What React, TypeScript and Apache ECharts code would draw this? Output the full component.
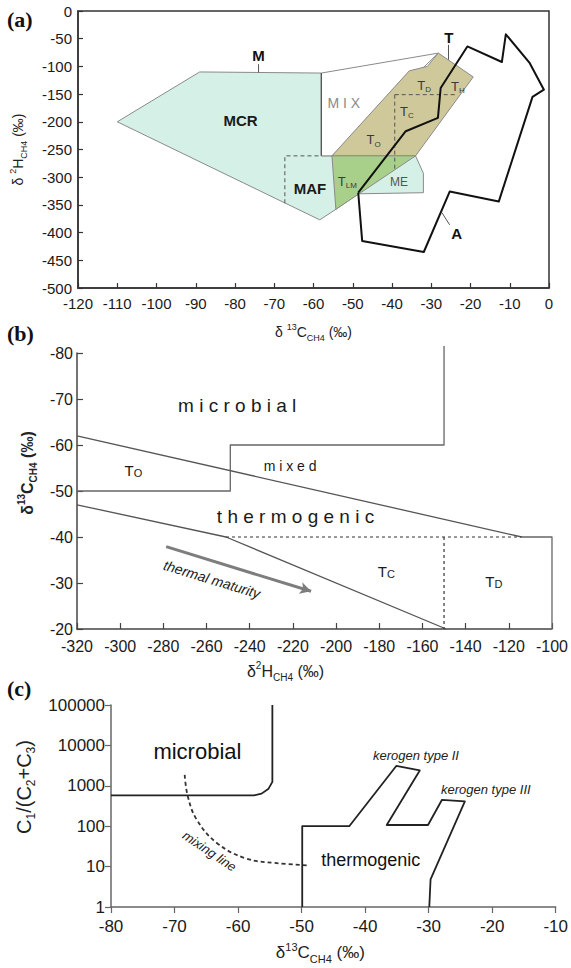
import React, { useEffect, useRef } from "react";
import * as echarts from "echarts";

const FONT = "'Liberation Sans', Arial, sans-serif";
const SERIF = "'Liberation Serif', 'Times New Roman', serif";

// ---------- (a) δ13C vs δ2H of methane ----------
const aMicrobialZone = [
  [-110, -200], [-89, -110], [-58, -112], [-58, -261.5], [-34, -261.5],
  [-32, -293], [-32, -328], [-48.6, -330], [-54.3, -358], [-58.4, -377],
];
const aMixedZone = [[-58, -112], [-28.2, -76], [-55.3, -261.5], [-58, -261.5]];
const aThermogenicZone = [
  [-28.2, -76], [-19.3, -119], [-34, -261.5], [-55.3, -261.5], [-35.6, -108], [-31, -100],
];
const aLateMatureZone = [[-55.3, -261.5], [-34, -261.5], [-54.3, -358]];
const aAbioticOutline = [
  [-48.6, -328], [-36.5, -217], [-28.3, -193], [-27.6, -139], [-20.8, -64],
  [-12, -92], [-11, -42], [-5, -93], [-1.3, -142], [-4.2, -155], [-12.8, -344],
  [-25.3, -326], [-31.9, -435], [-47.6, -415], [-48.6, -328],
];
const aMafDivider = [[-67.3, -347], [-67.3, -261.5], [-58, -261.5]];
const aThermoDividerV = [[-39.3, -151], [-39.3, -288]];
const aThermoDividerH = [[-39.3, -151], [-24, -151]];
const aLeaderM = [[-74, -96], [-74, -111]];
const aLeaderT = [[-25.6, -61], [-25.6, -88]];
const aLeaderA = [[-27.3, -364], [-25.3, -386]];
const aLabels = [
  { at: [-78.6, -198], text: "{b|MCR}" },
  { at: [-60.9, -320], text: "{b|MAF}" },
  { at: [-52.3, -166], text: "{g|M I X}" },
  { at: [-31.8, -134], text: "{t|T}{s|D}" },
  { at: [-23.2, -136], text: "{t|T}{s|H}" },
  { at: [-36.2, -181], text: "{t|T}{s|C}" },
  { at: [-44.7, -232], text: "{t|T}{s|O}" },
  { at: [-51.4, -307], text: "{t|T}{s|LM}" },
  { at: [-38.2, -308], text: "{m|ME}" },
  { at: [-74, -80], text: "{k|M}" },
  { at: [-25.5, -47], text: "{k|T}" },
  { at: [-23.5, -401], text: "{k|A}" },
];

// ---------- (b) δ2H vs δ13C of methane ----------
const bMicrobialBoundary = [[-320, -50], [-249, -50], [-249, -60], [-150, -60], [-150, -81.5]];
const bMixedBoundary = [[-320, -62], [-114, -40]];
const bThermoBoundary = [[-320, -47], [-251, -40], [-149, -20]];
const bDashedTop = [[-251, -40], [-114, -40]];
const bDryBox = [[-114, -40], [-100, -40], [-100, -20]];
const bDashedSplit = [[-150, -40], [-150, -20]];
const bMaturityArrow = [[-278.7, -37.9], [-211.6, -28.2]];
const bLabels = [
  { at: [-245.8, -68.6], text: "{big|m i c r o b i a l}" },
  { at: [-221.3, -55.5], text: "{mid|m i x e d}" },
  { at: [-218.8, -44.4], text: "{big|t h e r m o g e n i c}" },
  { at: [-293.9, -54.4], text: "{t|T}{s|O}" },
  { at: [-176.7, -32.4], text: "{t|T}{s|C}" },
  { at: [-126.9, -30.3], text: "{t|T}{s|D}" },
  { at: [-257.5, -30.8], text: "{it|thermal maturity}", rotate: -17 },
];

// ---------- (c) δ13C vs C1/(C2+C3) ----------
const cMicrobialBoundary = [
  [-80, 580], [-57.5, 580], [-56.3, 640], [-55.2, 850], [-54.6, 1250], [-54.6, 100000],
];
const cThermoBoundary = [
  [-49.9, 1], [-49.9, 100], [-42.5, 100], [-35.1, 3100], [-31.4, 2400], [-36.6, 107],
  [-30.1, 107], [-27.9, 450], [-24.3, 410], [-29.7, 4.8], [-29.9, 1],
];
const cMixingLine = [
  [-68.4, 1860], [-67.9, 540], [-66.5, 145], [-63.3, 38], [-58.8, 16], [-54.2, 12.3], [-48.8, 10.7],
];
const cLabels = [
  { at: [-66.4, 6900], text: "{big|microbial}" },
  { at: [-39.1, 14.2], text: "{mid|thermogenic}" },
  { at: [-32.0, 5700], text: "{it|kerogen type II}" },
  { at: [-21.0, 824], text: "{it|kerogen type III}" },
  { at: [-64.5, 24], text: "{it|mixing line}", rotate: -34 },
];

type Pt = number[];

function zoneSeries(g: number, pts: Pt[], fill: string, stroke: string, lineWidth: number, z: number) {
  return {
    type: "custom",
    coordinateSystem: "cartesian2d",
    xAxisIndex: g,
    yAxisIndex: g,
    data: [pts[0]],
    clip: false,
    silent: true,
    z,
    renderItem: (_p: any, api: any) => ({
      type: "polygon",
      shape: { points: pts.map((p) => api.coord(p)) },
      style: { fill, stroke, lineWidth, lineJoin: "round" },
    }),
  };
}

function lineSeries(g: number, pts: Pt[], color: string, width: number, type: any = "solid", z = 10, smooth: any = false) {
  return {
    type: "line",
    xAxisIndex: g,
    yAxisIndex: g,
    data: pts,
    showSymbol: false,
    symbol: "none",
    smooth,
    clip: false,
    silent: true,
    z,
    lineStyle: { color, width, type, join: "round" },
  };
}

function labelSeries(g: number, labels: any[], rich: any) {
  return {
    type: "custom",
    coordinateSystem: "cartesian2d",
    xAxisIndex: g,
    yAxisIndex: g,
    data: labels.map((l) => l.at),
    clip: false,
    silent: true,
    z: 30,
    renderItem: (params: any, api: any) => {
      const l = labels[params.dataIndex];
      const p = api.coord([api.value(0), api.value(1)]);
      return {
        type: "text",
        x: p[0],
        y: p[1],
        rotation: ((l.rotate || 0) * Math.PI) / 180,
        style: {
          text: l.text,
          rich,
          align: "center",
          verticalAlign: "middle",
          fontFamily: FONT,
          fontSize: 14,
          fill: "#222",
        },
      };
    },
  };
}

const tok = (size: number, extra: any = {}) => ({
  fontSize: size,
  lineHeight: size,
  fontFamily: FONT,
  fill: "#222",
  ...extra,
});

const nameRich = (size: number, weight = "normal", color = "#222") => {
  const small = Math.round(size * 0.62);
  return {
    m: { fontSize: size, lineHeight: size + 6, fontFamily: FONT, fontWeight: weight, color },
    sup: { fontSize: small, lineHeight: small, verticalAlign: "top", fontFamily: FONT, fontWeight: weight, color },
    sub: { fontSize: small, lineHeight: small, verticalAlign: "bottom", fontFamily: FONT, fontWeight: weight, color },
  };
};

function buildOption() {
  const axisBase = (color: string, inside: boolean, tickLen: number, labelSize: number, margin: number) => ({
    type: "value",
    axisLine: { show: true, onZero: false, lineStyle: { color, width: 1.5 } },
    axisTick: { show: true, inside, length: tickLen, lineStyle: { color, width: 1.2 } },
    axisLabel: { fontSize: labelSize, margin, fontFamily: FONT, color: "#1a1a1a" },
    splitLine: { show: false },
    nameLocation: "middle",
  });

  const subRichA = {
    t: tok(13, { fill: "#3a3a3a", lineHeight: 17 }),
    s: tok(8, { fill: "#3a3a3a", verticalAlign: "bottom" }),
    b: tok(15, { fontWeight: "bold", fill: "#1a1a1a" }),
    g: tok(14, { fill: "#8a8a8a" }),
    m: tok(12, { fill: "#555" }),
    k: tok(15, { fontWeight: "bold", fill: "#111" }),
  };
  const richB = {
    big: tok(19, { fill: "#1a1a1a" }),
    mid: tok(14, { fill: "#1a1a1a" }),
    t: tok(15, { fill: "#1a1a1a" }),
    s: tok(11, { fill: "#1a1a1a", verticalAlign: "bottom" }),
    it: tok(14, { fontStyle: "italic", fill: "#1a1a1a" }),
  };
  const richC = {
    big: tok(22, { fill: "#111" }),
    mid: tok(18, { fill: "#111" }),
    it: tok(13, { fontStyle: "italic", fill: "#222" }),
  };

  return {
    animation: false,
    backgroundColor: "#ffffff",
    grid: [
      { left: 70, top: 11, width: 479, height: 277, show: true, borderColor: "#333", borderWidth: 1.5 },
      { left: 77, top: 353, width: 475, height: 276 },
      { left: 111, top: 705, width: 448, height: 202 },
    ],
    xAxis: [
      {
        ...axisBase("#333", true, 5, 15, 8),
        gridIndex: 0, min: -120, max: 0, interval: 10,
        name: "{m|δ }{sup|13}{m|C}{sub|CH4}{m| (‰)}",
        nameGap: 34,
        nameTextStyle: { rich: nameRich(14) },
      },
      {
        ...axisBase("#444", true, 6, 16, 9),
        gridIndex: 1, min: -320, max: -100, interval: 20,
        name: "{m|δ}{sup|2}{m|H}{sub|CH4}{m| (‰)}",
        nameGap: 31,
        nameTextStyle: { rich: nameRich(16), padding: [0, 58, 0, 0] },
      },
      {
        ...axisBase("#666", false, 6, 17, 11),
        gridIndex: 2, min: -80, max: -10, interval: 10,
        name: "{m|δ}{sup|13}{m|C}{sub|CH4}{m| (‰)}",
        nameGap: 34,
        nameTextStyle: { rich: nameRich(17), padding: [0, 26, 0, 0] },
      },
    ],
    yAxis: [
      {
        ...axisBase("#333", true, 5, 15, 6),
        gridIndex: 0, min: -500, max: 0, interval: 50,
        name: "{m|δ }{sup|2}{m|H}{sub|CH4}{m| (‰)}",
        nameGap: 50,
        nameTextStyle: { rich: nameRich(14) },
      },
      {
        ...axisBase("#444", true, 6, 16, 4),
        gridIndex: 1, min: -80, max: -20, interval: 10, inverse: true,
        name: "{m|δ}{sup|13}{m|C}{sub|CH4}{m| (‰)}",
        nameGap: 38,
        nameTextStyle: { rich: nameRich(16, "bold"), padding: [0, 0, 0, 36] },
      },
      {
        ...axisBase("#666", false, 6, 17, 6),
        type: "log", logBase: 10,
        gridIndex: 2, min: 1, max: 100000,
        axisLabel: {
          fontSize: 17, margin: 6, fontFamily: FONT, color: "#1a1a1a",
          formatter: (v: number) => String(Math.round(v)),
        },
        minorTick: { show: false },
        name: "{m|C}{sub|1}{m|/(C}{sub|2}{m|+C}{sub|3}{m|)}",
        nameGap: 62,
        nameTextStyle: { rich: nameRich(20), padding: [0, 0, 0, 38] },
      },
    ],
    graphic: [
      { type: "text", left: 7, top: 8, style: { text: "(a)", font: `bold 22px ${SERIF}`, fill: "#111" } },
      { type: "text", left: 7, top: 322, style: { text: "(b)", font: `bold 22px ${SERIF}`, fill: "#111" } },
      { type: "text", left: 7, top: 677, style: { text: "(c)", font: `bold 22px ${SERIF}`, fill: "#111" } },
    ],
    series: [
      // (a) genetic zones
      zoneSeries(0, aMicrobialZone, "#d5f0e7", "#8a8a8a", 1, 2),
      zoneSeries(0, aMixedZone, "#ffffff", "#8a8a8a", 1, 3),
      zoneSeries(0, aThermogenicZone, "#cfc89b", "#8a8a8a", 1, 4),
      zoneSeries(0, aLateMatureZone, "#a9d08b", "#8a8a8a", 1, 5),
      lineSeries(0, [[-58, -112], [-58, -261.5]], "#555", 1.2, "solid", 6),
      lineSeries(0, aMafDivider, "#555", 1, [4, 3], 7),
      lineSeries(0, aThermoDividerV, "#555", 1, [4, 3], 7),
      lineSeries(0, aThermoDividerH, "#555", 1, [4, 3], 7),
      lineSeries(0, aAbioticOutline, "#111", 2, "solid", 12),
      lineSeries(0, aLeaderM, "#555", 1, "solid", 8),
      lineSeries(0, aLeaderT, "#555", 1, "solid", 8),
      lineSeries(0, aLeaderA, "#555", 1, "solid", 8),
      labelSeries(0, aLabels, subRichA),

      // (b) boundaries
      lineSeries(1, bMicrobialBoundary, "#666", 1.3),
      lineSeries(1, bMixedBoundary, "#555", 1.3),
      lineSeries(1, bThermoBoundary, "#555", 1.3),
      lineSeries(1, bDashedTop, "#333", 1.2, [3, 3]),
      lineSeries(1, bDryBox, "#666", 1.3),
      lineSeries(1, bDashedSplit, "#333", 1.2, [3, 3]),
      {
        type: "line",
        xAxisIndex: 1,
        yAxisIndex: 1,
        data: bMaturityArrow,
        showSymbol: false,
        symbol: "none",
        silent: true,
        lineStyle: { opacity: 0 },
        markLine: {
          silent: true,
          symbol: ["none", "arrow"],
          symbolSize: [9, 11],
          label: { show: false },
          lineStyle: { color: "#7d7d7d", width: 3, type: "solid" },
          data: [[{ coord: bMaturityArrow[0] }, { coord: bMaturityArrow[1] }]],
        },
      },
      labelSeries(1, bLabels, richB),

      // (c) boundaries
      lineSeries(2, cMicrobialBoundary, "#222", 1.8),
      lineSeries(2, cThermoBoundary, "#222", 1.8),
      lineSeries(2, cMixingLine, "#333", 1.8, [4, 3], 10, 0.4),
      labelSeries(2, cLabels, richC),
    ],
  };
}

export default function App() {
  const ref = useRef<HTMLDivElement>(null);
  useEffect(() => {
    document.body.style.margin = "0";
    const chart = echarts.init(ref.current as HTMLDivElement, undefined, { renderer: "svg" });
    chart.setOption(buildOption() as any);
    return () => chart.dispose();
  }, []);
  return <div ref={ref} style={{ width: 571, height: 968 }} />;
}
